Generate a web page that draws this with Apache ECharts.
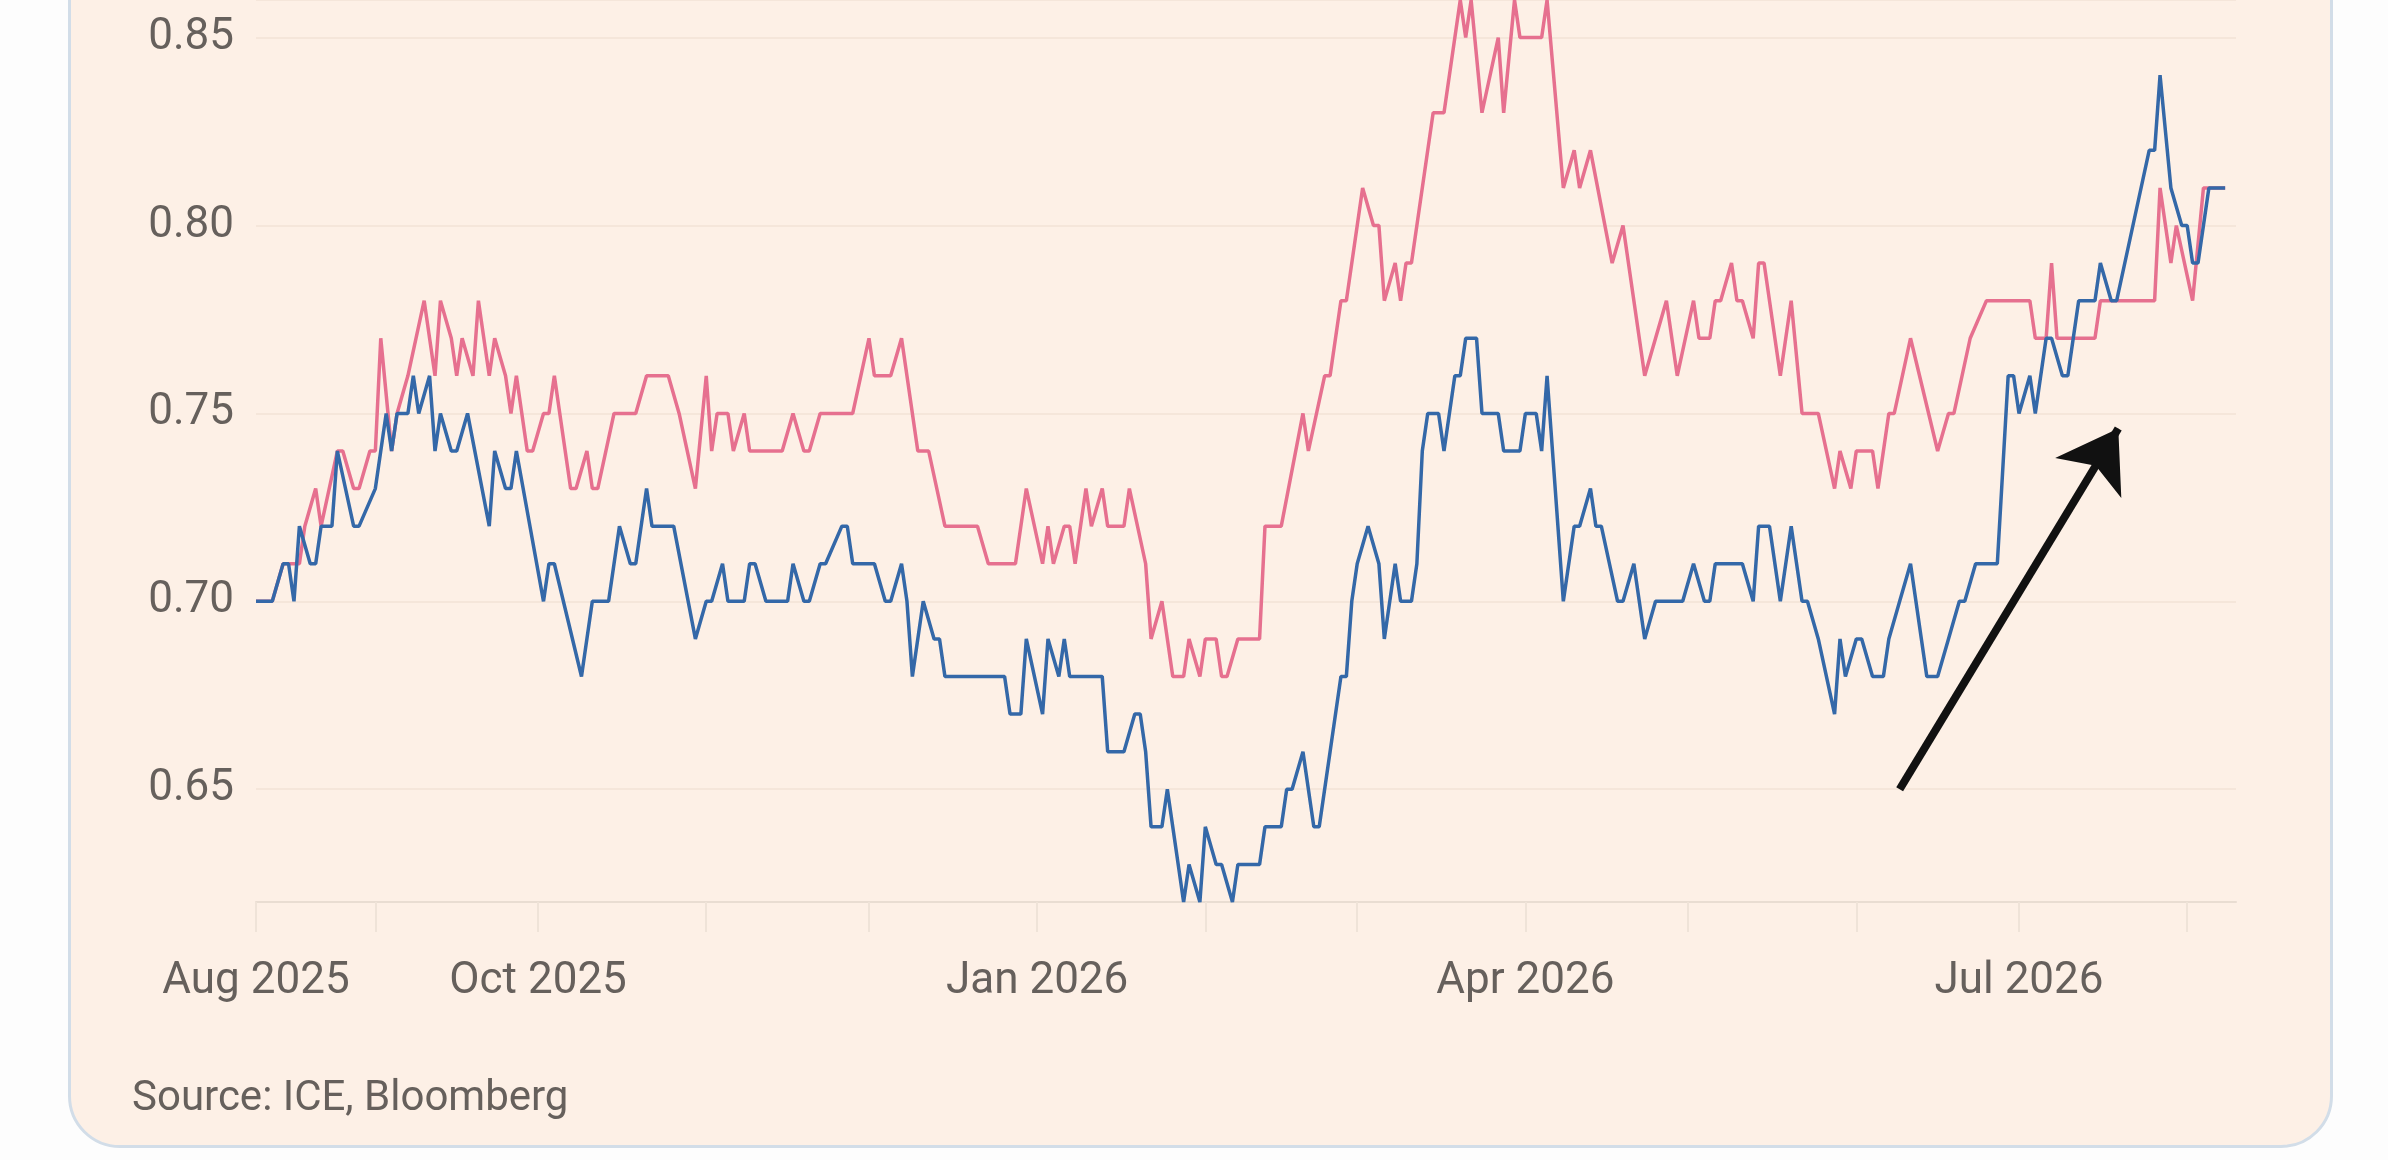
<!DOCTYPE html>
<html>
<head>
<meta charset="utf-8">
<title>ICE / Bloomberg chart</title>
<script src="https://cdn.jsdelivr.net/npm/echarts@6/dist/echarts.min.js"></script>
<style>
  html, body { margin: 0; padding: 0; background: #fdfdfd; overflow: hidden; }
  #card {
    position: absolute; left: 68px; top: -60px; width: 2259px; height: 1202px;
    background: #fdf0e6; border: 3px solid #d2dde8; border-radius: 52px;
  }
  #chart { position: absolute; left: 0; top: 0; width: 2388px; height: 1160px; }
</style>
</head>
<body>
<div id="card"></div>
<div id="chart"></div>
<script>
// data starts 10 Aug 2025, days counted from there
var startDate = new Date(2025, 7, 10).getTime();
var endDate = new Date(2026, 7, 10).getTime();
var DAY = 86400000;

var pinkDays = [0, 3, 5, 6, 8, 9, 11, 12, 15, 16, 18, 19, 21, 22, 23, 25, 26, 28, 31, 33, 34, 36, 37, 38, 40, 41,
  43, 44, 46, 47, 48, 50, 51, 53, 54, 55, 56, 58, 59, 61, 62, 63, 66, 70, 72, 76, 78, 81, 83, 84, 85, 87, 88, 90,
  91, 97, 99, 101, 102, 104, 110, 113, 114, 117, 119, 122, 124, 127, 133, 135, 140, 142, 145, 146, 147, 149, 150,
  151, 153, 154, 156, 157, 160, 161, 164, 165, 167, 169, 171, 172, 174, 175, 177, 178, 179, 181, 185, 186, 189,
  193, 194, 197, 198, 200, 201, 204, 206, 207, 208, 210, 211, 212, 213, 217, 219, 222, 223, 224, 226, 229, 230,
  232, 233, 237, 238, 241, 243, 244, 246, 250, 252, 256, 258, 260, 262, 265, 266, 268, 269, 270, 272, 273, 274,
  276, 277, 278, 281, 283, 285, 288, 291, 292, 294, 295, 298, 299, 301, 302, 305, 310, 312, 313, 316, 319, 327,
  328, 330, 331, 332, 339, 340, 350, 351, 353, 354, 357, 359, 363];
var pinkValues = [0.70, 0.70, 0.71, 0.71, 0.71, 0.72, 0.73, 0.72, 0.74, 0.74, 0.73, 0.73, 0.74, 0.74, 0.77, 0.74,
  0.75, 0.76, 0.78, 0.76, 0.78, 0.77, 0.76, 0.77, 0.76, 0.78, 0.76, 0.77, 0.76, 0.75, 0.76, 0.74, 0.74, 0.75,
  0.75, 0.76, 0.75, 0.73, 0.73, 0.74, 0.73, 0.73, 0.75, 0.75, 0.76, 0.76, 0.75, 0.73, 0.76, 0.74, 0.75, 0.75,
  0.74, 0.75, 0.74, 0.74, 0.75, 0.74, 0.74, 0.75, 0.75, 0.77, 0.76, 0.76, 0.77, 0.74, 0.74, 0.72, 0.72, 0.71,
  0.71, 0.73, 0.71, 0.72, 0.71, 0.72, 0.72, 0.71, 0.73, 0.72, 0.73, 0.72, 0.72, 0.73, 0.71, 0.69, 0.70, 0.68,
  0.68, 0.69, 0.68, 0.69, 0.69, 0.68, 0.68, 0.69, 0.69, 0.72, 0.72, 0.75, 0.74, 0.76, 0.76, 0.78, 0.78, 0.81,
  0.80, 0.80, 0.78, 0.79, 0.78, 0.79, 0.79, 0.83, 0.83, 0.86, 0.85, 0.86, 0.83, 0.85, 0.83, 0.86, 0.85, 0.85,
  0.86, 0.81, 0.82, 0.81, 0.82, 0.79, 0.80, 0.76, 0.77, 0.78, 0.76, 0.78, 0.77, 0.77, 0.78, 0.78, 0.79, 0.78,
  0.78, 0.77, 0.79, 0.79, 0.76, 0.78, 0.75, 0.75, 0.73, 0.74, 0.73, 0.74, 0.74, 0.73, 0.75, 0.75, 0.77, 0.74,
  0.75, 0.75, 0.77, 0.78, 0.78, 0.77, 0.77, 0.79, 0.77, 0.77, 0.78, 0.78, 0.81, 0.79, 0.80, 0.78, 0.81, 0.81];

var blueDays = [0, 3, 5, 6, 7, 8, 10, 11, 12, 14, 15, 18, 19, 22, 24, 25, 26, 28, 29, 30, 32, 33, 34, 36, 37, 39,
  43, 44, 46, 47, 48, 53, 54, 55, 60, 62, 65, 67, 69, 70, 72, 73, 77, 81, 83, 84, 86, 87, 90, 91, 92, 94, 98, 99,
  101, 102, 104, 105, 108, 109, 110, 114, 116, 117, 119, 120, 121, 123, 125, 126, 127, 138, 139, 141, 142, 145,
  146, 148, 149, 150, 156, 157, 160, 162, 163, 164, 165, 167, 168, 171, 172, 174, 175, 177, 178, 180, 181, 185,
  186, 189, 190, 191, 193, 195, 196, 198, 200, 201, 202, 203, 205, 207, 208, 210, 211, 213, 214, 215, 216, 218,
  219, 221, 222, 223, 225, 226, 229, 230, 233, 234, 236, 237, 238, 241, 243, 244, 246, 247, 248, 251, 252, 254,
  256, 258, 263, 265, 267, 268, 269, 274, 276, 277, 279, 281, 283, 285, 286, 288, 291, 292, 293, 295, 296, 298,
  300, 301, 303, 305, 307, 308, 310, 312, 314, 315, 317, 321, 323, 324, 325, 327, 328, 330, 331, 333, 334, 336,
  339, 340, 342, 343, 346, 349, 350, 351, 353, 355, 356, 357, 358, 360, 363];
var blueValues = [0.70, 0.70, 0.71, 0.71, 0.70, 0.72, 0.71, 0.71, 0.72, 0.72, 0.74, 0.72, 0.72, 0.73, 0.75, 0.74,
  0.75, 0.75, 0.76, 0.75, 0.76, 0.74, 0.75, 0.74, 0.74, 0.75, 0.72, 0.74, 0.73, 0.73, 0.74, 0.70, 0.71, 0.71,
  0.68, 0.70, 0.70, 0.72, 0.71, 0.71, 0.73, 0.72, 0.72, 0.69, 0.70, 0.70, 0.71, 0.70, 0.70, 0.71, 0.71, 0.70,
  0.70, 0.71, 0.70, 0.70, 0.71, 0.71, 0.72, 0.72, 0.71, 0.71, 0.70, 0.70, 0.71, 0.70, 0.68, 0.70, 0.69, 0.69,
  0.68, 0.68, 0.67, 0.67, 0.69, 0.67, 0.69, 0.68, 0.69, 0.68, 0.68, 0.66, 0.66, 0.67, 0.67, 0.66, 0.64, 0.64,
  0.65, 0.62, 0.63, 0.62, 0.64, 0.63, 0.63, 0.62, 0.63, 0.63, 0.64, 0.64, 0.65, 0.65, 0.66, 0.64, 0.64, 0.66,
  0.68, 0.68, 0.70, 0.71, 0.72, 0.71, 0.69, 0.71, 0.70, 0.70, 0.71, 0.74, 0.75, 0.75, 0.74, 0.76, 0.76, 0.77,
  0.77, 0.75, 0.75, 0.74, 0.74, 0.75, 0.75, 0.74, 0.76, 0.70, 0.72, 0.72, 0.73, 0.72, 0.72, 0.70, 0.70, 0.71,
  0.69, 0.70, 0.70, 0.71, 0.70, 0.70, 0.71, 0.71, 0.70, 0.72, 0.72, 0.70, 0.72, 0.70, 0.70, 0.69, 0.67, 0.69,
  0.68, 0.69, 0.69, 0.68, 0.68, 0.69, 0.70, 0.71, 0.69, 0.68, 0.68, 0.69, 0.70, 0.70, 0.71, 0.71, 0.76, 0.76,
  0.75, 0.76, 0.75, 0.77, 0.77, 0.76, 0.76, 0.78, 0.78, 0.79, 0.78, 0.78, 0.80, 0.82, 0.82, 0.84, 0.81, 0.80,
  0.80, 0.79, 0.79, 0.81, 0.81];

// month ticks and the labelled ones
var tickDates = [startDate, new Date(2025, 8, 1).getTime(), new Date(2025, 9, 1).getTime(),
  new Date(2025, 10, 1).getTime(), new Date(2025, 11, 1).getTime(), new Date(2026, 0, 1).getTime(),
  new Date(2026, 1, 1).getTime(), new Date(2026, 2, 1).getTime(), new Date(2026, 3, 1).getTime(),
  new Date(2026, 4, 1).getTime(), new Date(2026, 5, 1).getTime(), new Date(2026, 6, 1).getTime(),
  new Date(2026, 7, 1).getTime()];
var labelDates = [startDate, new Date(2025, 9, 1).getTime(), new Date(2026, 0, 1).getTime(),
  new Date(2026, 3, 1).getTime(), new Date(2026, 6, 1).getTime()];
var monthNames = ['Jan', 'Feb', 'Mar', 'Apr', 'May', 'Jun', 'Jul', 'Aug', 'Sep', 'Oct', 'Nov', 'Dec'];

// arrow annotation (day, value), end is the arrow tip
var arrowFrom = [303, 0.65];
var arrowTo = [343.3, 0.746];

function toPoints(days, values) {
    return days.map(function (d, i) {
        return [startDate + d * DAY, values[i]];
    });
}

var textColor = '#66605c';
var font = 'Roboto, "Noto Sans", sans-serif';

var myChart = echarts.init(document.getElementById('chart'), null, {renderer: 'canvas'});
var option = {
    animation: false,
    backgroundColor: 'transparent',
    title: {
        text: 'Source: ICE, Bloomberg',
        left: 127,
        top: 1073,
        textStyle: {color: textColor, fontSize: 42, fontWeight: 'normal', fontFamily: font}
    },
    grid: {left: 256, right: 152, top: -4, bottom: 258},
    // plain value axis holding timestamps, so ticks can sit on chosen dates
    xAxis: {
        type: 'value',
        min: startDate,
        max: endDate,
        axisLine: {lineStyle: {color: '#e9ddd2', width: 2}},
        axisTick: {show: true, length: 30, customValues: tickDates, lineStyle: {color: '#efe3d8', width: 2}},
        splitLine: {show: false},
        axisLabel: {
            customValues: labelDates,
            margin: 58,
            color: textColor,
            fontSize: 44,
            fontFamily: font,
            formatter: function (val) {
                var d = new Date(val);
                return monthNames[d.getMonth()] + ' ' + d.getFullYear();
            }
        }
    },
    yAxis: {
        type: 'value',
        min: 0.62,
        max: 0.86,
        splitNumber: 5,
        axisLine: {show: false},
        axisTick: {show: false},
        splitLine: {lineStyle: {color: '#f5e6da', width: 2}},
        axisLabel: {
            margin: 22,
            color: textColor,
            fontSize: 44,
            fontFamily: font,
            showMinLabel: false,
            showMaxLabel: false,
            formatter: function (v) {
                var r = Math.round(v * 100);
                return r % 5 === 0 ? v.toFixed(2) : '';
            }
        }
    },
    series: [
        {
            name: 'pink',
            type: 'line',
            showSymbol: false,
            data: toPoints(pinkDays, pinkValues),
            lineStyle: {color: '#e6708f', width: 3.5},
            itemStyle: {color: '#e6708f'}
        },
        {
            name: 'blue',
            type: 'line',
            showSymbol: false,
            data: toPoints(blueDays, blueValues),
            lineStyle: {color: '#3468a8', width: 3.5},
            itemStyle: {color: '#3468a8'},
            markLine: {
                silent: true,
                symbol: ['none', 'arrow'],
                symbolSize: [58, 58],
                label: {show: false},
                lineStyle: {color: '#111111', width: 8, type: 'solid'},
                data: [[
                    {coord: [startDate + arrowFrom[0] * DAY, arrowFrom[1]]},
                    {coord: [startDate + arrowTo[0] * DAY, arrowTo[1]]}
                ]]
            }
        }
    ]
};
myChart.setOption(option);
</script>
</body>
</html>
